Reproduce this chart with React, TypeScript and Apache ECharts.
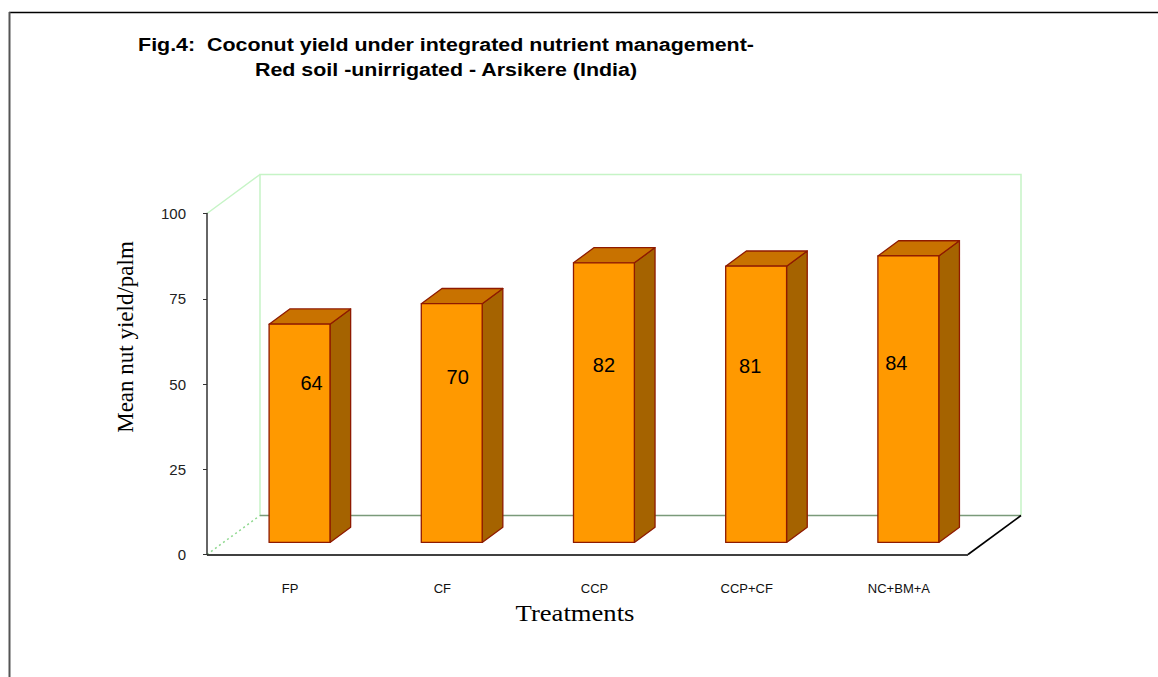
import React, { useEffect, useRef } from "react";
import * as echarts from "echarts";

const categories = ["FP", "CF", "CCP", "CCP+CF", "NC+BM+A"];
const yieldValues = [64, 70, 82, 81, 84];
const yTicks = { min: 0, max: 100, interval: 25 };
const titleLine1 = "Fig.4:  Coconut yield under integrated nutrient management-";
const titleLine2 = "Red soil -unirrigated - Arsikere (India)";
const yAxisName = "Mean nut yield/palm";
const xAxisName = "Treatments";

const DX = 53;
const DY = -39;
const F0 = 0.31;
const F1 = 0.7;

export default function App() {
  const ref = useRef<HTMLDivElement>(null);
  useEffect(() => {
    if (!ref.current) return;
    const chart = echarts.init(ref.current, null, { renderer: "svg" });
    const option: any = {
      animation: false,
      backgroundColor: "#ffffff",
      grid: { left: 207, top: 213.5, width: 761, height: 341, containLabel: false },
      xAxis: {
        type: "category",
        data: categories,
        axisLine: { show: false },
        axisTick: { show: false },
        axisLabel: {
          margin: 27,
          padding: [0, 0, 0, 14],
          fontSize: 13,
          color: "#111",
          fontFamily: "Arial, 'Liberation Sans', sans-serif",
        },
        splitLine: { show: false },
        z: 5,
      },
      yAxis: {
        type: "value",
        min: yTicks.min,
        max: yTicks.max,
        interval: yTicks.interval,
        axisLine: { show: true, lineStyle: { color: "#333", width: 1.5 } },
        axisTick: { show: true, length: 4, lineStyle: { color: "#333" } },
        axisLabel: {
          margin: 21,
          fontSize: 15,
          color: "#222",
          fontFamily: "Arial, 'Liberation Sans', sans-serif",
        },
        splitLine: { show: false },
        z: 6,
      },
      graphic: [
        {
          type: "line",
          shape: { x1: 9, y1: 12.5, x2: 1158, y2: 12.5 },
          style: { stroke: "#000", lineWidth: 1.5 },
        },
        {
          type: "line",
          shape: { x1: 9.5, y1: 12, x2: 9.5, y2: 677 },
          style: { stroke: "#555", lineWidth: 2 },
        },
        {
          type: "text",
          x: 446,
          y: 45,
          scaleX: 1.19,
          style: {
            text: titleLine1,
            font: "bold 18px Arial, 'Liberation Sans', sans-serif",
            fill: "#000",
            textAlign: "center",
            textVerticalAlign: "middle",
          },
        },
        {
          type: "text",
          x: 446,
          y: 70,
          scaleX: 1.19,
          style: {
            text: titleLine2,
            font: "bold 18px Arial, 'Liberation Sans', sans-serif",
            fill: "#000",
            textAlign: "center",
            textVerticalAlign: "middle",
          },
        },
        {
          type: "text",
          x: 125,
          y: 337,
          rotation: Math.PI / 2,
          style: {
            text: yAxisName,
            font: "23px 'Liberation Serif', 'Times New Roman', serif",
            fill: "#000",
            textAlign: "center",
            textVerticalAlign: "middle",
          },
        },
        {
          type: "text",
          x: 575,
          y: 612,
          scaleX: 1.11,
          style: {
            text: xAxisName,
            font: "24px 'Liberation Serif', 'Times New Roman', serif",
            fill: "#000",
            textAlign: "center",
            textVerticalAlign: "middle",
          },
        },
      ],
      series: [
        {
          type: "custom",
          z: 1,
          silent: true,
          data: [[0, 0]],
          renderItem: (params: any, api: any) => {
            const cs = params.coordSys;
            const x0 = cs.x;
            const x1 = cs.x + cs.width;
            const yB = cs.y + cs.height;
            const yT = cs.y;
            return {
              type: "group",
              children: [
                {
                  type: "polygon",
                  shape: {
                    points: [
                      [x0, yB],
                      [x1, yB],
                      [x1 + DX, yB + DY],
                      [x0 + DX, yB + DY],
                    ],
                  },
                  style: { fill: "#ffffff", stroke: "none" },
                },
                {
                  type: "polyline",
                  shape: {
                    points: [
                      [x0 + DX, yB + DY],
                      [x0 + DX, yT + DY],
                      [x1 + DX, yT + DY],
                      [x1 + DX, yB + DY],
                    ],
                  },
                  style: { fill: "none", stroke: "#c6f4c6", lineWidth: 1.5 },
                },
                {
                  type: "line",
                  shape: { x1: x0, y1: yT, x2: x0 + DX, y2: yT + DY },
                  style: { stroke: "#c6f4c6", lineWidth: 1.5 },
                },
                {
                  type: "line",
                  shape: { x1: x0, y1: yB, x2: x0 + DX, y2: yB + DY },
                  style: { stroke: "#8fd88f", lineWidth: 1.5, lineDash: [2, 3] },
                },
                {
                  type: "line",
                  shape: { x1: x0 + DX, y1: yB + DY, x2: x1 + DX, y2: yB + DY },
                  style: { stroke: "#7a9a7a", lineWidth: 1.5 },
                },
                {
                  type: "line",
                  shape: { x1: x0, y1: yB + 0.5, x2: x1, y2: yB + 0.5 },
                  style: { stroke: "#000", lineWidth: 1.6 },
                },
                {
                  type: "line",
                  shape: { x1: x1, y1: yB, x2: x1 + DX, y2: yB + DY },
                  style: { stroke: "#000", lineWidth: 1.6 },
                },
              ],
            };
          },
        },
        {
          type: "custom",
          z: 3,
          data: categories.map((c, i) => [i, yieldValues[i]]),
          renderItem: (params: any, api: any) => {
            const i = api.value(0);
            const v = api.value(1);
            const base = api.coord([i, 0]);
            const top = api.coord([i, v]);
            const bw = api.size([1, 0])[0] * 0.4;
            const fdx = DX * F0;
            const fdy = DY * F0;
            const ddx = DX * (F1 - F0);
            const ddy = DY * (F1 - F0);
            const xl = base[0] - bw / 2 + fdx;
            const xr = xl + bw;
            const yt = top[1] + fdy;
            const yb = base[1] + fdy;
            const edge = { stroke: "#8e1a00", lineWidth: 1.3, lineJoin: "round" };
            const lab = api.coord([i, v * 0.3 + 27.5]);
            return {
              type: "group",
              children: [
                {
                  type: "polygon",
                  shape: {
                    points: [
                      [xr, yt],
                      [xr + ddx, yt + ddy],
                      [xr + ddx, yb + ddy],
                      [xr, yb],
                    ],
                  },
                  style: { fill: "#a56300", ...edge },
                },
                {
                  type: "polygon",
                  shape: {
                    points: [
                      [xl, yt],
                      [xr, yt],
                      [xr + ddx, yt + ddy],
                      [xl + ddx, yt + ddy],
                    ],
                  },
                  style: { fill: "#c87200", ...edge },
                },
                {
                  type: "rect",
                  shape: { x: xl, y: yt, width: bw, height: yb - yt },
                  style: { fill: "#ff9900", ...edge },
                },
                {
                  type: "text",
                  x: xl + bw / 2 + (2 - i) * 6,
                  y: lab[1] + fdy,
                  style: {
                    text: String(v),
                    font: "20px Arial, 'Liberation Sans', sans-serif",
                    fill: "#000",
                    textAlign: "center",
                    textVerticalAlign: "middle",
                  },
                },
              ],
            };
          },
        },
      ],
    };
    chart.setOption(option);
    return () => chart.dispose();
  }, []);
  return (
    <div
      ref={ref}
      style={{ position: "absolute", left: 0, top: 0, width: 1158, height: 677 }}
    />
  );
}
